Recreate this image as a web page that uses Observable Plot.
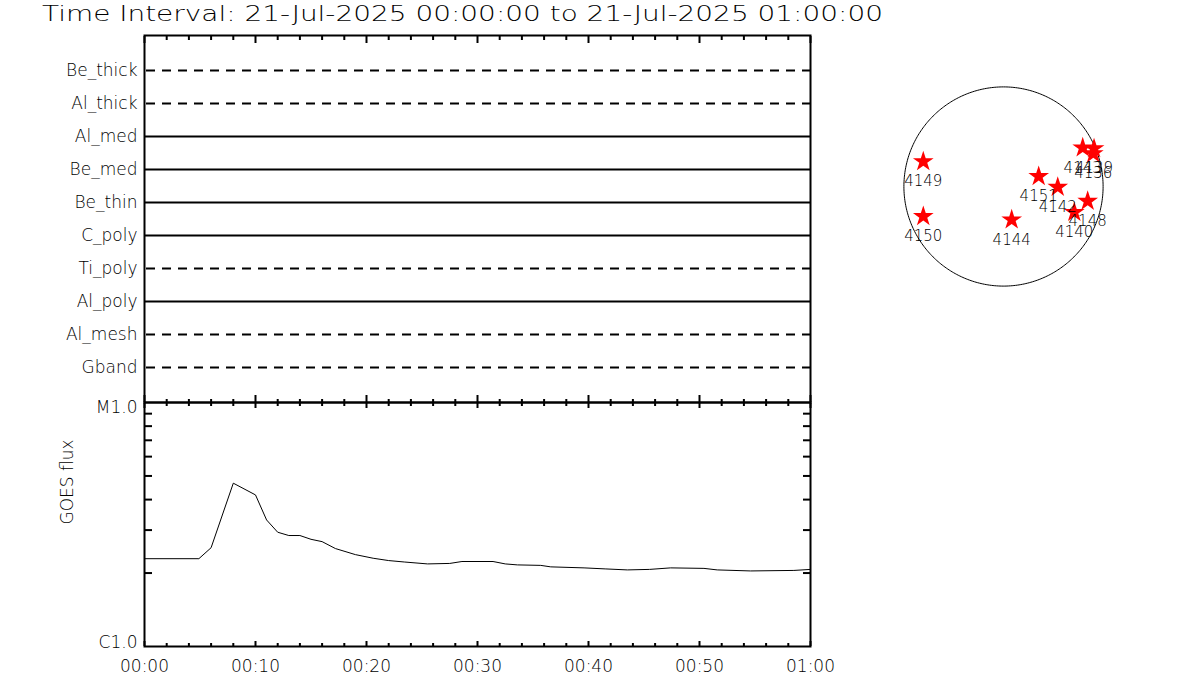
<!DOCTYPE html>
<html><head><meta charset="utf-8">
<script src="https://cdn.jsdelivr.net/npm/d3@7"></script>
<script src="https://cdn.jsdelivr.net/npm/@observablehq/plot@0.6"></script>
<style>
body{margin:0;background:#fff;}
#wrap{position:relative;width:1200px;height:700px;overflow:hidden;background:#fff;font-family:"DejaVu Sans",sans-serif;}
#wrap svg{position:absolute;}
#wrap svg text{font-weight:200;}
#title{position:absolute;left:42px;top:2px;font-size:21px;white-space:nowrap;font-weight:200;color:#000;transform-origin:0 0;}
</style></head><body>
<div id="wrap"><div id="title"></div></div>
<script>
// ---------- data ----------
const titleText = "Time Interval: 21-Jul-2025 00:00:00 to 21-Jul-2025 01:00:00";
const channels = ["Be_thick","Al_thick","Al_med","Be_med","Be_thin","C_poly","Ti_poly","Al_poly","Al_mesh","Gband"];
const channelStyle = ["dashed","dashed","solid","solid","solid","solid","dashed","solid","dashed","dashed"];
const goesMinutes = [0,4.9,6,8,10,11,12,13,14,15,16,17.2,19,20.6,22,23.4,25.5,27.5,28.6,31.4,32.5,33.6,35.7,36.6,39.6,41.5,43.5,45.5,47.4,50.4,51.6,54.6,58.5,60];
const goesFlux = [2.29,2.29,2.54,4.67,4.18,3.30,2.94,2.85,2.85,2.75,2.69,2.52,2.38,2.30,2.25,2.22,2.18,2.19,2.23,2.23,2.18,2.16,2.15,2.12,2.10,2.08,2.06,2.07,2.10,2.09,2.06,2.04,2.05,2.07]; // x 1e-6 W/m^2
const xTickMinutes = [0,10,20,30,40,50,60];
const xTickLabels = ["00:00","00:10","00:20","00:30","00:40","00:50","01:00"];
const xMinorMinutes = [2,4,6,8,12,14,16,18,22,24,26,28,32,34,36,38,42,44,46,48,52,54,56,58];
const yTickValues = [1e-6, 1e-5];
const yTickLabels = ["C1.0","M1.0"];
const yMinorValues = [2e-6,3e-6,4e-6,5e-6,6e-6,7e-6,8e-6,9e-6];
const yAxisLabel = "GOES flux";
const regions = ["4149","4150","4144","4151","4142","4148","4140","4143","4139","4136"];
const regionLon = [-56.3,-57.6,5.0,20.8,33.0,58.7,47.4,59.7,79.5,72.8];
const regionLat = [14.5,-17.5,-19.5,5.8,-0.4,-8.5,-15.0,22.9,22.4,19.3];

// ---------- build ----------
const t0 = Date.UTC(2025,6,21,0,0,0);
const toDate = m => new Date(t0 + m*60000);
const xDomain = [toDate(0), toDate(60)];
const majorDates = xTickMinutes.map(toDate);
const minorDates = xMinorMinutes.map(toDate);
const labelOf = d => xTickLabels[xTickMinutes.indexOf(Math.round((+d - t0)/60000))];
const blank = () => "";
const font = "DejaVu Sans, sans-serif";

const wrap = document.getElementById("wrap");
const titleEl = document.getElementById("title");
titleEl.textContent = titleText;
(function fitTitle(){
  const c = document.createElement("canvas").getContext("2d");
  c.font = "200 21px 'DejaVu Sans'";
  const w = c.measureText(titleText).width;
  titleEl.style.transform = "scaleX(" + (841 / w).toFixed(4) + ")";
})();

const common = {width:830, height:700, marginLeft:144, marginRight:20,
  style:{background:"transparent", fontFamily:font, fontSize:"17px", overflow:"visible", color:"black"}};

const chanData = channels.map((c,i)=>({c, style:channelStyle[i]}));
const topPanel = Plot.plot({
  ...common, marginTop:35, marginBottom:298,
  x:{type:"utc", domain:xDomain},
  y:{type:"point", domain:channels, padding:1},
  marks:[
    Plot.ruleY(chanData.filter(d=>d.style==="solid"), {y:"c", x1:()=>xDomain[0], x2:()=>xDomain[1], stroke:"black", strokeWidth:2}),
    Plot.ruleY(chanData.filter(d=>d.style==="dashed"), {y:"c", x1:()=>xDomain[0], x2:()=>xDomain[1], stroke:"black", strokeWidth:2, strokeDasharray:"9,7", dx:2}),
    Plot.frame({stroke:"black", strokeWidth:2}),
    Plot.axisY({anchor:"left", tickSize:0, tickPadding:7, fontSize:17, label:null}),
    Plot.axisX({anchor:"top", ticks:minorDates, tickSize:-4, strokeWidth:2, tickFormat:blank, label:null}),
    Plot.axisX({anchor:"top", ticks:majorDates, tickSize:-7, strokeWidth:2, tickFormat:blank, label:null}),
    Plot.axisX({anchor:"bottom", ticks:minorDates, tickSize:-3, strokeWidth:2, tickFormat:blank, label:null}),
    Plot.axisX({anchor:"bottom", ticks:majorDates, tickSize:-7, strokeWidth:2, tickFormat:blank, label:null})
  ]
});
topPanel.style.left = "0px"; topPanel.style.top = "0px";
wrap.appendChild(topPanel);

const goesData = goesMinutes.map((m,i)=>({t:toDate(m), flux:goesFlux[i]*1e-6}));
const yLab = d => yTickLabels[yTickValues.indexOf(d)];
const bottomPanel = Plot.plot({
  ...common, marginTop:402, marginBottom:54,
  x:{type:"utc", domain:xDomain},
  y:{type:"log", domain:[1e-6,1e-5]},
  marks:[
    Plot.line(goesData, {x:"t", y:"flux", stroke:"black", strokeWidth:1}),
    Plot.frame({stroke:"black", strokeWidth:2}),
    Plot.axisY({anchor:"left", ticks:yMinorValues, tickSize:-8, strokeWidth:2, tickFormat:blank, label:null}),
    Plot.axisY({anchor:"right", ticks:yMinorValues, tickSize:-8, strokeWidth:2, tickFormat:blank, label:null}),
    Plot.axisY({anchor:"left", ticks:[yTickValues[1]], tickSize:0, tickPadding:7, fontSize:17, tickFormat:yLab, dy:5, label:null}),
    Plot.axisY({anchor:"left", ticks:[yTickValues[0]], tickSize:0, tickPadding:7, fontSize:17, tickFormat:yLab, dy:-4, label:null}),
    Plot.axisX({anchor:"top", ticks:minorDates, tickSize:-3, strokeWidth:2, tickFormat:blank, label:null}),
    Plot.axisX({anchor:"top", ticks:majorDates, tickSize:-5, strokeWidth:2, tickFormat:blank, label:null}),
    Plot.axisX({anchor:"bottom", ticks:minorDates, tickSize:-3, strokeWidth:2, tickFormat:blank, label:null}),
    Plot.axisX({anchor:"bottom", ticks:majorDates, tickSize:-5, strokeWidth:2, tickFormat:blank, label:null}),
    Plot.axisX({anchor:"bottom", ticks:majorDates, tickSize:0, tickPadding:13, fontSize:17, tickFormat:labelOf, label:null}),
    Plot.text([yAxisLabel], {frameAnchor:"left", dx:-77, rotate:-90, fontSize:17, fill:"black"})
  ]
});
bottomPanel.style.left = "0px"; bottomPanel.style.top = "0px";
wrap.appendChild(bottomPanel);

const regionData = regions.map((id,i)=>({id, lon:regionLon[i], lat:regionLat[i]}));
const limb = d3.geoCircle().center([0,0]).radius(89.99).precision(1)();
const disk = Plot.plot({
  width:200, height:200, margin:0, inset:0.4,
  projection:{type:"orthographic", rotate:[0,0], domain:{type:"Sphere"}},
  style:{background:"transparent", fontFamily:font, overflow:"visible"},
  marks:[
    Plot.geo(limb, {stroke:"black", strokeWidth:1, fill:"none"}),
    Plot.dot(regionData, {x:"lon", y:"lat", symbol:"star", fill:"red", r:6.5}),
    Plot.text(regionData, {x:"lon", y:"lat", text:"id", dy:20, fontSize:15, fill:"black"})
  ]
});
disk.style.left = "902.5px"; disk.style.top = "86px";
wrap.appendChild(disk);
</script>
</body></html>
